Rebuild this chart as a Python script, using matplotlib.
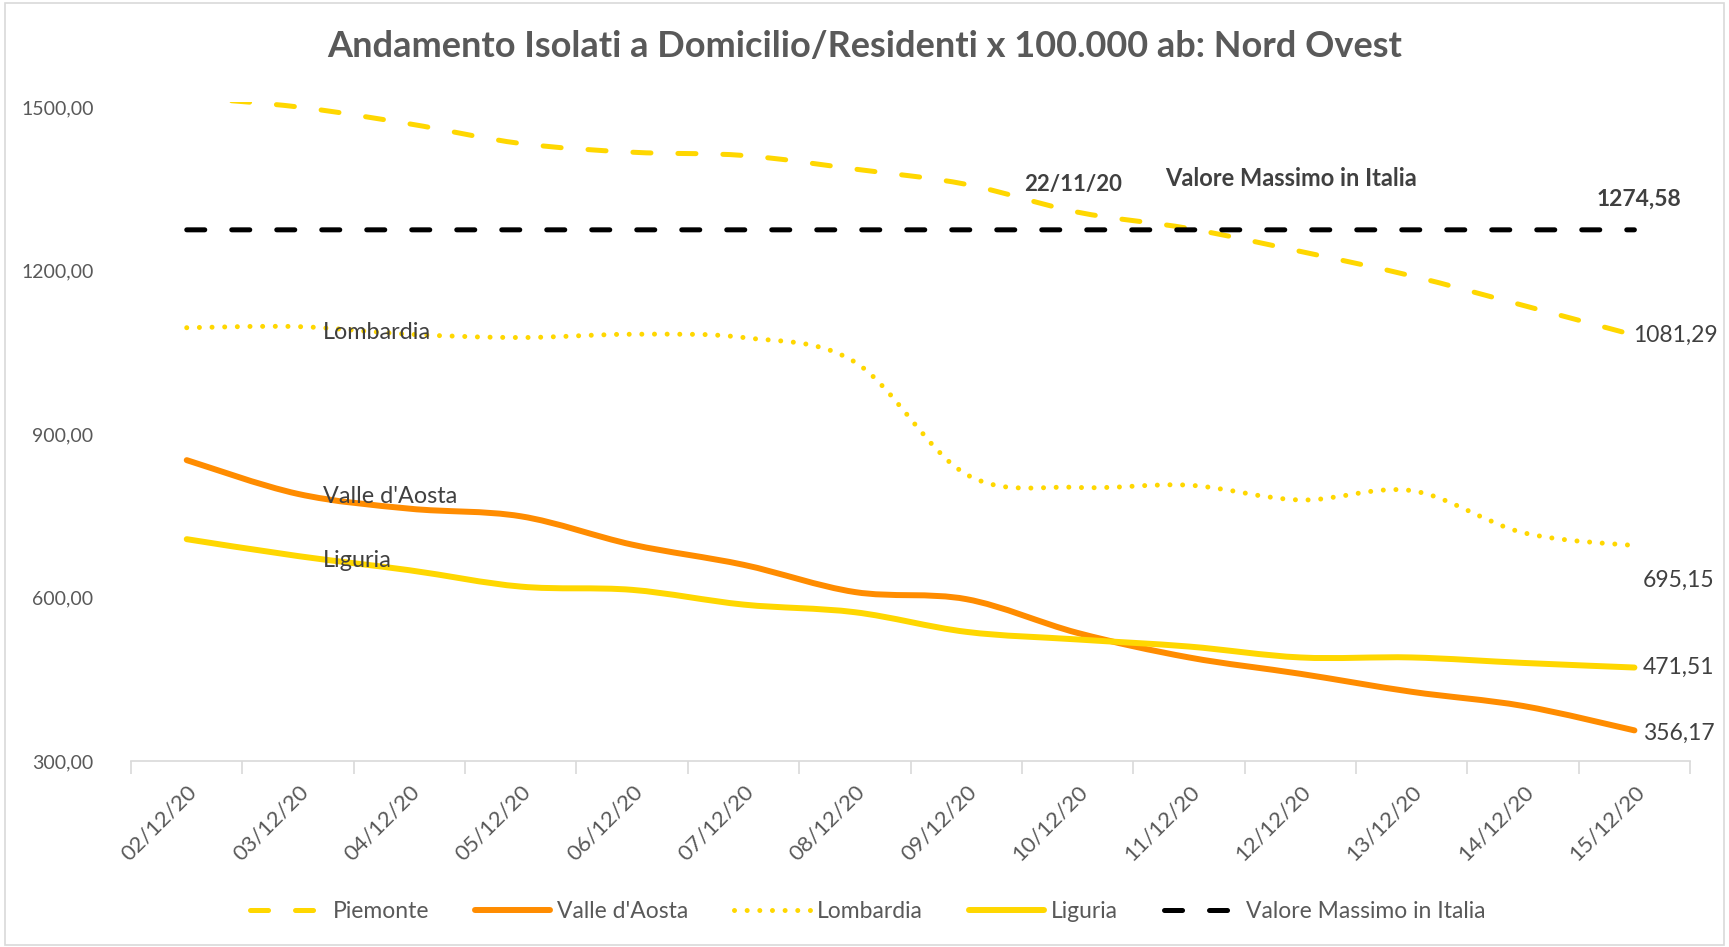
import numpy as np
import matplotlib.pyplot as plt
from matplotlib.path import Path
from matplotlib.patches import PathPatch, Rectangle
from matplotlib.lines import Line2D
from matplotlib.transforms import ScaledTranslation

plt.rcParams['font.family'] = ['Lato', 'DejaVu Sans']
plt.rcParams['lines.scale_dashes'] = False

date = ['02/12/20', '03/12/20', '04/12/20', '05/12/20', '06/12/20', '07/12/20', '08/12/20',
        '09/12/20', '10/12/20', '11/12/20', '12/12/20', '13/12/20', '14/12/20', '15/12/20']
piemonte = [1518, 1500, 1469, 1433, 1417, 1411, 1386, 1358, 1307, 1277, 1235, 1190, 1136, 1081.29]
valle_aosta = [852, 790, 763, 749, 697, 660, 610, 597, 535, 490, 460, 427, 401, 356.17]
lombardia = [1095, 1097, 1083, 1077, 1083, 1077, 1032, 826, 802, 806, 779, 796, 719, 695.15]
liguria = [707, 676, 650, 620, 614, 587, 573, 537, 523, 510, 490, 490, 480, 471.51]
massimo_italia = [1274.58, 1274.58, 1274.58, 1274.58, 1274.58, 1274.58, 1274.58,
                  1274.58, 1274.58, 1274.58, 1274.58, 1274.58, 1274.58, 1274.58]

GIALLO = '#FFD700'
ARANCIO = '#FF8C00'
GRIGIO = '#595959'
SCURO = '#404040'


def curva_liscia(x, y):
    # bezier come le linee "smussate" di Excel
    p = np.column_stack([x, y]).astype(float)
    n = len(p)
    verts = [p[0]]
    codes = [Path.MOVETO]
    for i in range(n - 1):
        p0 = p[max(i - 1, 0)]
        p3 = p[min(i + 2, n - 1)]
        c1 = p[i] + (p[i + 1] - p0) / 6
        c2 = p[i + 1] - (p3 - p[i]) / 6
        verts += [c1, c2, p[i + 1]]
        codes += [Path.CURVE4] * 3
    return Path(verts, codes)


tratteggio = (0, (13, 19.4))
puntini = (0, (0.01, 9.1))

serie = [
    ('Piemonte', piemonte, GIALLO, 3.6, tratteggio),
    ("Valle d'Aosta", valle_aosta, ARANCIO, 4.3, '-'),
    ('Lombardia', lombardia, GIALLO, 3.6, puntini),
    ('Liguria', liguria, GIALLO, 4.3, '-'),
    ('Valore Massimo in Italia', massimo_italia, 'black', 3.6, tratteggio),
]

fig = plt.figure(figsize=(17.29, 9.47), dpi=100)
ax = fig.add_axes([0.0758, 0.1964, 0.9775 - 0.0758, 0.8928 - 0.1964])

x = np.arange(len(date))
handles = []
for nome, valori, colore, lw, stile in serie:
    ax.add_patch(PathPatch(curva_liscia(x, valori), fill=False, edgecolor=colore, lw=lw,
                           linestyle=stile, capstyle='round', joinstyle='round'))
    handles.append(Line2D([], [], color=colore, lw=lw, linestyle=stile,
                          dash_capstyle='round', solid_capstyle='round', label=nome))

ax.set_xlim(-0.5, len(date) - 0.5)
ax.set_ylim(300, 1510)

ax.set_yticks([300, 600, 900, 1200, 1500])
ax.set_yticklabels([f'{v:.2f}'.replace('.', ',') for v in [300, 600, 900, 1200, 1500]])
ax.tick_params(axis='y', length=0, pad=27, labelsize=14, labelcolor=GRIGIO)

ax.set_xticks(x)
ax.set_xticklabels(date, rotation=45, ha='right', va='center', rotation_mode='anchor')
ax.set_xticks(np.arange(-0.5, len(date)), minor=True)
ax.tick_params(axis='x', which='major', length=0, pad=20, labelsize=16, labelcolor=GRIGIO)
ax.tick_params(axis='x', which='minor', length=9, width=1.2, color='#D9D9D9')
sposta = ScaledTranslation(7 / 100, 0, fig.dpi_scale_trans)
for lab in ax.get_xticklabels():
    lab.set_transform(lab.get_transform() + sposta)

for s in ['top', 'right', 'left']:
    ax.spines[s].set_visible(False)
ax.spines['bottom'].set_color('#D9D9D9')
ax.spines['bottom'].set_linewidth(1.2)

# etichette con i nomi al 03/12
for nome, valori, dy in [('Lombardia', lombardia, -4), ("Valle d'Aosta", valle_aosta, -2),
                         ('Liguria', liguria, -3)]:
    ax.annotate(nome, (1, valori[1]), xytext=(18, dy), textcoords='offset points',
                va='center', ha='left', fontsize=16.8, color=SCURO)

# etichette finali
ultimo = len(date) - 1
for valori, dx, dy in [(piemonte, -1, 0), (lombardia, 6, -25), (liguria, 6, 0), (valle_aosta, 6, -2)]:
    ax.annotate(f'{valori[-1]:.2f}'.replace('.', ','), (ultimo, valori[-1]), xytext=(dx, dy),
                textcoords='offset points', va='center', ha='left', fontsize=16.5, color=SCURO)

ax.text(7.52, 1358, '22/11/20', fontsize=16, fontweight='bold', color=SCURO, va='center')
ax.text(8.79, 1368, 'Valore Massimo in Italia', fontsize=17, fontweight='bold', color=SCURO, va='center')
ax.text(12.66, 1330, '1274,58', fontsize=16.5, fontweight='bold', color=SCURO, va='center')

fig.text(0.4998, 0.951, 'Andamento Isolati a Domicilio/Residenti x 100.000 ab: Nord Ovest',
         ha='center', va='center', fontsize=26, fontweight='bold', color=GRIGIO)

leg = fig.legend(handles=handles, loc='center', bbox_to_anchor=(0.502, 0.037), ncol=5,
                 frameon=False, fontsize=16.5, handlelength=3.3, handletextpad=0.3,
                 columnspacing=2.0)
for t in leg.get_texts():
    t.set_color(GRIGIO)

fig.patches.append(Rectangle((0.003, 0.002), 0.994, 0.995, transform=fig.transFigure,
                             fill=False, edgecolor='#D9D9D9', lw=1.2))

fig.savefig('out.png', dpi=100)
